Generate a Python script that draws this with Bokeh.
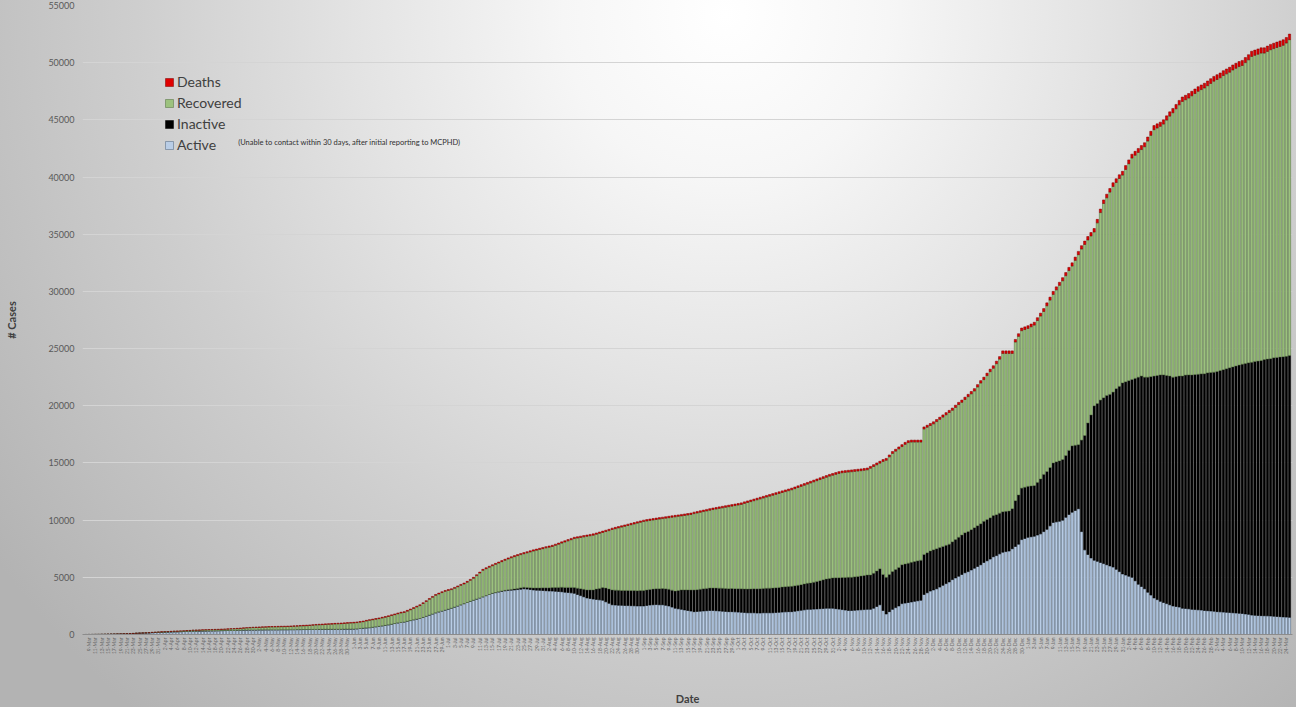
import pandas as pd
from math import pi
from bokeh.plotting import figure
from bokeh.models import ColumnDataSource, Range1d, FixedTicker, SingleIntervalTicker, Legend, LegendItem, Label
from bokeh.embed import file_html
from bokeh.resources import INLINE

start_date = "2020-03-08"

total = [1, 2, 4, 6, 8, 12, 15, 20, 25, 30,
38, 45, 55, 65, 78, 90, 105, 118, 130, 145,
160, 185, 200, 215, 230, 245, 260, 275, 290, 300,
315, 330, 345, 360, 380, 390, 400, 410, 420, 430,
440, 450, 460, 470, 480, 495, 510, 525, 540, 560,
580, 600, 620, 640, 650, 660, 670, 680, 690, 700,
705, 715, 725, 730, 740, 750, 760, 775, 790, 805,
820, 840, 860, 880, 900, 915, 930, 945, 960, 975,
990, 1005, 1020, 1040, 1055, 1070, 1100, 1140, 1180, 1240,
1300, 1350, 1400, 1450, 1510, 1570, 1640, 1720, 1800, 1880,
1950, 2000, 2110, 2230, 2350, 2480, 2600, 2780, 2960, 3150,
3330, 3500, 3620, 3740, 3850, 3930, 4000, 4120, 4250, 4380,
4500, 4650, 4820, 5000, 5230, 5460, 5700, 5840, 5970, 6100,
6220, 6340, 6460, 6580, 6700, 6800, 6900, 6990, 7080, 7160,
7240, 7320, 7400, 7470, 7540, 7610, 7680, 7740, 7800, 7900,
8000, 8100, 8200, 8300, 8400, 8500, 8550, 8600, 8650, 8700,
8750, 8800, 8880, 8960, 9040, 9120, 9200, 9300, 9370, 9440,
9510, 9580, 9650, 9720, 9790, 9860, 9930, 10000, 10050, 10100,
10140, 10180, 10220, 10260, 10300, 10340, 10380, 10420, 10460, 10500,
10540, 10580, 10620, 10700, 10760, 10820, 10880, 10940, 11000, 11060,
11110, 11160, 11210, 11260, 11310, 11360, 11410, 11460, 11510, 11600,
11680, 11760, 11840, 11920, 12000, 12080, 12160, 12240, 12320, 12400,
12480, 12560, 12640, 12720, 12800, 12900, 13000, 13100, 13200, 13300,
13400, 13500, 13600, 13700, 13800, 13900, 14000, 14080, 14160, 14240,
14300, 14330, 14360, 14390, 14420, 14450, 14480, 14520, 14560, 14700,
14850, 15000, 15150, 15300, 15400, 15700, 16000, 16200, 16400, 16600,
16800, 16950, 17000, 17000, 17000, 17000, 18150, 18300, 18450, 18600,
18800, 19000, 19200, 19400, 19600, 19800, 20050, 20300, 20500, 20750,
21000, 21250, 21500, 21850, 22200, 22500, 22850, 23200, 23500, 23900,
24300, 24800, 24800, 24800, 24800, 25800, 26300, 26800, 26900, 27000,
27150, 27300, 27700, 28100, 28500, 29000, 29500, 30000, 30400, 30800,
31200, 31650, 32100, 32500, 33000, 33500, 34000, 34400, 34800, 35150,
35500, 36300, 37200, 38000, 38500, 39000, 39500, 39850, 40200, 40500,
41000, 41500, 42000, 42250, 42500, 42750, 43000, 43500, 44000, 44500,
44650, 44800, 45000, 45350, 45700, 46000, 46350, 46700, 47000, 47150,
47300, 47500, 47700, 47900, 48050, 48200, 48400, 48600, 48800, 48950,
49100, 49300, 49450, 49600, 49800, 49950, 50100, 50200, 50450, 50700,
51000, 51100, 51200, 51300, 51300, 51450, 51600, 51700, 51800, 51900,
52000, 52200, 52500]

active = [1, 2, 4, 6, 8, 12, 15, 20, 25, 30,
38, 45, 55, 65, 78, 90, 104, 116, 126, 136,
146, 165, 175, 185, 195, 205, 215, 225, 235, 240,
250, 260, 270, 280, 290, 295, 300, 305, 310, 315,
320, 325, 330, 340, 345, 350, 355, 360, 370, 380,
385, 390, 395, 400, 400, 405, 405, 410, 410, 415,
415, 415, 420, 420, 420, 425, 425, 430, 430, 435,
435, 440, 440, 445, 450, 450, 455, 455, 460, 460,
465, 465, 470, 475, 475, 480, 500, 530, 560, 580,
600, 640, 680, 720, 760, 800, 850, 900, 960, 1020,
1060, 1100, 1160, 1220, 1290, 1350, 1400, 1500, 1600, 1700,
1800, 1900, 1980, 2060, 2140, 2220, 2300, 2400, 2500, 2600,
2700, 2800, 2900, 3000, 3100, 3200, 3300, 3400, 3500, 3600,
3660, 3720, 3780, 3820, 3860, 3880, 3900, 3930, 3960, 4000,
3970, 3940, 3900, 3880, 3860, 3850, 3830, 3810, 3800, 3780,
3760, 3740, 3700, 3670, 3640, 3600, 3500, 3400, 3300, 3200,
3150, 3100, 3070, 3030, 3000, 2860, 2730, 2600, 2580, 2560,
2550, 2540, 2530, 2520, 2510, 2500, 2500, 2500, 2540, 2580,
2600, 2620, 2600, 2600, 2550, 2500, 2400, 2300, 2250, 2200,
2150, 2100, 2050, 2000, 2020, 2040, 2060, 2080, 2100, 2100,
2080, 2060, 2040, 2020, 2000, 2000, 1980, 1960, 1940, 1920,
1900, 1900, 1900, 1880, 1880, 1900, 1900, 1900, 1900, 1920,
1940, 1960, 1980, 2000, 2000, 2040, 2080, 2120, 2160, 2200,
2200, 2220, 2240, 2260, 2280, 2300, 2300, 2300, 2260, 2220,
2180, 2140, 2100, 2100, 2120, 2140, 2160, 2180, 2200, 2200,
2300, 2450, 2600, 2100, 1800, 2000, 2200, 2350, 2500, 2700,
2750, 2800, 2850, 2900, 2950, 3000, 3500, 3650, 3800, 3900,
4000, 4150, 4300, 4450, 4600, 4800, 4950, 5100, 5250, 5400,
5500, 5650, 5800, 5950, 6100, 6300, 6450, 6600, 6800, 6900,
7050, 7200, 7250, 7300, 7500, 7700, 7900, 8300, 8400, 8500,
8550, 8600, 8700, 8800, 9000, 9200, 9500, 9800, 9850, 9900,
10000, 10250, 10500, 10700, 10850, 11000, 9000, 7400, 7000, 6700,
6500, 6400, 6300, 6200, 6100, 6000, 5900, 5700, 5500, 5300,
5200, 5100, 5000, 4700, 4400, 4200, 4000, 3700, 3450, 3200,
3050, 2900, 2800, 2700, 2600, 2500, 2450, 2400, 2300, 2280,
2250, 2200, 2180, 2160, 2140, 2100, 2080, 2060, 2040, 2000,
1980, 1960, 1940, 1920, 1900, 1880, 1860, 1840, 1800, 1760,
1700, 1680, 1660, 1650, 1640, 1630, 1620, 1600, 1580, 1560,
1540, 1520, 1500]

inactive = [0] * 130 + [
10, 20, 30, 40, 50, 60, 80, 100, 120, 130,
140, 150, 170, 190, 210, 230, 250, 270, 300, 330,
360, 390, 420, 450, 480, 500, 550, 600, 650, 700,
750, 800, 900, 1000, 1100, 1200, 1250, 1300, 1300, 1300,
1300, 1310, 1320, 1320, 1330, 1330, 1340, 1340, 1350, 1360,
1370, 1380, 1400, 1420, 1440, 1460, 1480, 1500, 1600, 1700,
1750, 1800, 1850, 1900, 1900, 1920, 1940, 1950, 1960, 1970,
1980, 1990, 2000, 2000, 2010, 2020, 2030, 2040, 2050, 2060,
2070, 2080, 2100, 2110, 2120, 2130, 2140, 2150, 2160, 2170,
2180, 2190, 2200, 2200, 2210, 2220, 2230, 2240, 2260, 2280,
2300, 2350, 2400, 2450, 2500, 2550, 2600, 2650, 2700, 2750,
2800, 2850, 2900, 2900, 2920, 2940, 2960, 2980, 3000, 3000,
3050, 3100, 3150, 3150, 3200, 3250, 3300, 3330, 3360, 3400,
3420, 3440, 3460, 3480, 3490, 3500, 3500, 3500, 3500, 3500,
3500, 3450, 3400, 3350, 3300, 3300, 3350, 3400, 3450, 3500,
3500, 3520, 3540, 3560, 3580, 3600, 3600, 3600, 3600, 3580,
3560, 3540, 3520, 3500, 3500, 4000, 4300, 4500, 4480, 4460,
4440, 4420, 4600, 4800, 5000, 5050, 5100, 5200, 5250, 5280,
5300, 5400, 5600, 5800, 5700, 5600, 8000, 10000, 11500, 12500,
13500, 13800, 14200, 14500, 14800, 15000, 15300, 15800, 16200, 16700,
16900, 17100, 17300, 17700, 18100, 18400, 18500, 18800, 19100, 19400,
19600, 19800, 19900, 19950, 20000, 20000, 20100, 20200, 20300, 20400,
20450, 20500, 20550, 20600, 20650, 20700, 20800, 20850, 20900, 21000,
21100, 21200, 21300, 21400, 21500, 21600, 21700, 21800, 21900, 22000,
22100, 22200, 22250, 22300, 22400, 22450, 22500, 22600, 22650, 22700,
22750, 22800, 22900]

deaths = [0, 0, 0, 0, 0, 0, 0, 0, 0, 0,
0, 0, 0, 0, 0, 0, 0, 1, 1, 2,
2, 3, 4, 5, 6, 7, 8, 9, 10, 11,
12, 13, 14, 15, 16, 17, 18, 19, 20, 21,
22, 23, 24, 25, 26, 27, 28, 29, 30, 31,
32, 33, 34, 35, 36, 37, 38, 39, 40, 41,
42, 43, 44, 45, 46, 47, 48, 49, 50, 51,
52, 52, 53, 53, 54, 54, 55, 55, 56, 56,
57, 57, 58, 58, 59, 59, 60, 60, 61, 61,
62, 62, 63, 63, 64, 64, 65, 65, 66, 66,
67, 67, 68, 68, 69, 69, 70, 70, 71, 71,
72, 72, 73, 73, 74, 74, 75, 75, 76, 76,
77, 78, 79, 80, 81, 82, 83, 84, 85, 86,
87, 88, 89, 90, 91, 92, 93, 94, 95, 96,
97, 98, 99, 100, 101, 102, 103, 104, 105, 106,
107, 108, 109, 110, 110, 111, 111, 112, 112, 113,
113, 114, 114, 115, 115, 116, 116, 117, 117, 118,
118, 119, 119, 120, 120, 121, 121, 122, 122, 123,
123, 124, 124, 125, 125, 126, 126, 127, 127, 128,
128, 129, 129, 130, 130, 131, 131, 132, 132, 133,
133, 134, 134, 135, 135, 136, 136, 137, 137, 138,
138, 139, 139, 140, 140, 141, 141, 142, 142, 143,
143, 144, 144, 145, 145, 146, 146, 147, 147, 148,
148, 149, 149, 150, 150, 151, 151, 152, 152, 153,
153, 154, 154, 155, 155, 156, 156, 157, 157, 158,
159, 160, 161, 162, 163, 164, 165, 166, 167, 168,
169, 170, 171, 171, 171, 171, 173, 175, 177, 179,
181, 183, 185, 187, 189, 191, 193, 195, 197, 199,
201, 203, 205, 207, 209, 211, 213, 215, 217, 219,
221, 223, 223, 223, 223, 226, 229, 232, 235, 238,
241, 244, 247, 250, 253, 256, 259, 262, 265, 268,
271, 274, 277, 280, 283, 286, 289, 292, 295, 298,
301, 304, 307, 310, 313, 316, 319, 322, 325, 328,
331, 334, 337, 340, 343, 346, 349, 352, 355, 358,
361, 364, 367, 370, 373, 376, 379, 382, 385, 388,
391, 394, 397, 400, 403, 406, 409, 412, 415, 418,
421, 424, 427, 430, 433, 436, 439, 442, 445, 448,
451, 454, 457, 460, 460, 463, 466, 469, 472, 475,
478, 481, 484]

series_names = ["Active", "Inactive", "Recovered", "Deaths"]
legend_note = "(Unable to contact within 30 days, after initial reporting to MCPHD)"
x_title = "Date"
y_title = "# Cases"

n = min(len(total), len(active), len(inactive), len(deaths))
recovered = [max(0, t - a - i - d) for t, a, i, d in zip(total, active, inactive, deaths)][:n]
dates = pd.date_range(start_date, periods=n)
date_labels = [f"{d.day}-{d.strftime('%b')}" for d in dates]
xs = list(range(n))

src = ColumnDataSource(dict(x=xs, Active=active[:n], Inactive=inactive[:n],
                            Recovered=recovered, Deaths=deaths[:n]))

FONT = "Lato"
p = figure(width=1296, height=707, output_backend="svg", toolbar_location=None,
           x_range=Range1d(-1.1, n - 0.05), y_range=Range1d(0, 55000),
           min_border_left=82, min_border_right=4, min_border_top=5, min_border_bottom=72)
p.border_fill_color = None
p.background_fill_color = None
p.outline_line_color = None
p.styles = {"background": "radial-gradient(ellipse 70% 130% at 56% 2%, #ffffff 0%, #f6f6f6 18%, #e4e4e4 40%, #cecece 65%, #b3b3b3 100%)"}

fills = ["#b9cde6", "#000000", "#9cc27e", "#e00000"]
lines = ["#4d627b", "#000000", "#4f6d3b", "#7a0000"]
renderers = p.vbar_stack(series_names, x="x", width=0.72, source=src,
                         fill_color=fills, line_color=lines, line_width=0.5)

# y axis
p.yaxis.ticker = SingleIntervalTicker(interval=5000)
p.yaxis.axis_line_color = None
p.yaxis.major_tick_line_color = None
p.yaxis.minor_tick_line_color = None
p.yaxis.major_tick_out = 0
p.yaxis.major_tick_in = 0
p.yaxis.minor_tick_out = 0
p.yaxis.minor_tick_in = 0
p.yaxis.major_label_text_font = FONT
p.yaxis.major_label_text_font_size = "9px"
p.yaxis.major_label_text_color = "#595959"
p.yaxis.major_label_standoff = 8
p.yaxis.axis_label = y_title
p.yaxis.axis_label_text_font = FONT
p.yaxis.axis_label_text_font_size = "11px"
p.yaxis.axis_label_text_font_style = "bold"
p.yaxis.axis_label_text_color = "#404040"
p.yaxis.axis_label_standoff = 27

# x axis
tick_idx = list(range(1, n, 2))
p.xaxis.ticker = FixedTicker(ticks=tick_idx)
p.xaxis.major_label_overrides = {i: date_labels[i] for i in tick_idx}
p.xaxis.major_label_orientation = pi / 2
p.xaxis.major_label_text_font = FONT
p.xaxis.major_label_text_font_size = "5px"
p.xaxis.major_label_text_color = "#6a6a6a"
p.xaxis.major_label_standoff = 3
p.xaxis.major_tick_line_color = None
p.xaxis.minor_tick_line_color = None
p.xaxis.major_tick_out = 0
p.xaxis.major_tick_in = 0
p.xaxis.minor_tick_out = 0
p.xaxis.minor_tick_in = 0
p.xaxis.axis_line_color = "#8c8c8c"
p.xaxis.axis_label = x_title
p.xaxis.axis_label_text_font = FONT
p.xaxis.axis_label_text_font_size = "11px"
p.xaxis.axis_label_text_font_style = "bold"
p.xaxis.axis_label_text_color = "#404040"
p.xaxis.axis_label_standoff = 34

p.xgrid.visible = False
p.ygrid.grid_line_color = "#d4d4d4"
p.ygrid.grid_line_width = 1

items = [LegendItem(label=series_names[k], renderers=[renderers[k]]) for k in [3, 2, 1, 0]]
legend = Legend(items=items, location=(82, 481), orientation="vertical",
                label_text_font=FONT, label_text_font_size="14px", label_text_color="#404040",
                glyph_width=10, glyph_height=10, label_standoff=3, spacing=4, label_height=14,
                padding=0, margin=0, background_fill_alpha=0, border_line_alpha=0)
p.add_layout(legend)

note = Label(x=48.3, y=43000, text=legend_note, text_font=FONT, text_font_size="7.5px",
             text_color="#303030", text_baseline="middle")
p.add_layout(note)

open("out.html", "w").write(file_html(p, INLINE))
